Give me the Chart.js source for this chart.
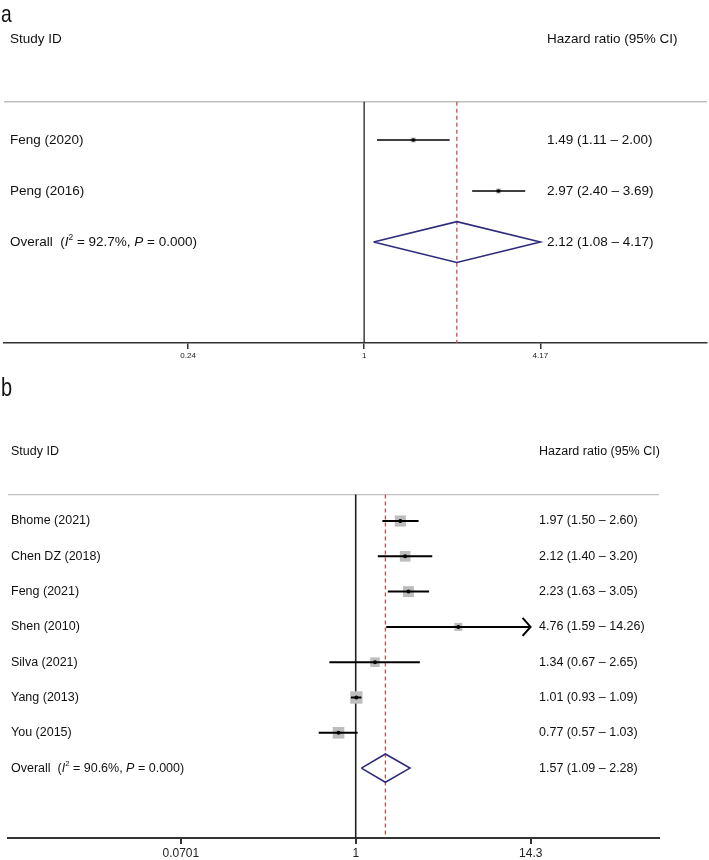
<!DOCTYPE html>
<html>
<head>
<meta charset="utf-8">
<script src="https://cdn.jsdelivr.net/npm/chart.js@4.4.0/dist/chart.umd.min.js"></script>
<style>
  body { margin: 0; background: #fff; }
  canvas { position: absolute; left: 0; }
  #chartA { top: 0; }
  #chartB { top: 370px; }
</style>
</head>
<body>
<canvas id="chartA" width="709" height="370"></canvas>
<canvas id="chartB" width="709" height="490"></canvas>
<script>
// ---- panel a data ----
const studiesA = ['Feng (2020)', 'Peng (2016)'];
const hrA = [1.49, 2.97];
const lowA = [1.11, 2.40];
const highA = [2.00, 3.69];
const weightA = [50, 50];
const pooledA = [2.12, 1.08, 4.17];   // estimate, low, high
const hetA = ['92.7%', '0.000'];
const ticksA = [0.24, 1, 4.17];
const tickLabelsA = ['0.24', '1', '4.17'];

// ---- panel b data ----
const studiesB = ['Bhome (2021)', 'Chen DZ (2018)', 'Feng (2021)', 'Shen (2010)', 'Silva (2021)', 'Yang (2013)', 'You (2015)'];
const hrB = [1.97, 2.12, 2.23, 4.76, 1.34, 1.01, 0.77];
const lowB = [1.50, 1.40, 1.63, 1.59, 0.67, 0.93, 0.57];
const highB = [2.60, 3.20, 3.05, 14.26, 2.65, 1.09, 1.03];
const weightB = [15.5, 14.2, 15.0, 8.0, 11.5, 19.0, 16.8];
const pooledB = [1.57, 1.09, 2.28];
const hetB = ['90.6%', '0.000'];
const ticksB = [0.0701, 1, 14.3];
const tickLabelsB = ['0.0701', '1', '14.3'];

const FONT = '"Liberation Sans", Arial, Helvetica, sans-serif';
const f2 = v => v.toFixed(2);
const ciText = (e, l, h) => f2(e) + ' (' + f2(l) + ' \u2013 ' + f2(h) + ')';

function drawRich(ctx, x, y, parts, size) {
  for (const p of parts) {
    const sz = p.sup ? size * 0.62 : size;
    ctx.font = (p.it ? 'italic ' : '') + sz + 'px ' + FONT;
    ctx.fillText(p.t, x, p.sup ? y - size * 0.32 : y);
    x += ctx.measureText(p.t).width;
  }
}

function forest(id, d, s) {
  const n = d.studies.length;
  const ruleRow = -0.75;
  const pts = d.hr.map((v, i) => ({ x: v, y: i }));
  const [pe, pl, ph] = d.pooled;
  const line = (data, extra) => Object.assign({ data, showLine: true, pointRadius: 0, borderWidth: 1.3, fill: false }, extra);

  // first dataset is drawn on top
  const datasets = [
    { data: pts, pointStyle: 'circle', pointRadius: s.dot, backgroundColor: '#000', borderWidth: 0 },
    ...d.hr.map((v, i) => line([{ x: d.low[i], y: i }, { x: d.high[i], y: i }], { borderColor: '#000', borderWidth: s.ciWidth })),
    { data: pts, pointStyle: 'rect', pointRadius: d.weight.map(w => Math.sqrt(w) * s.box), backgroundColor: '#bdbdbd', borderWidth: 0 },
    line([{ x: pl, y: n }, { x: pe, y: n - 0.4 }, { x: ph, y: n }, { x: pe, y: n + 0.4 }, { x: pl, y: n }],
         { borderColor: '#2e2c7a', borderWidth: s.diaWidth, borderJoinStyle: 'miter' }),
    line([{ x: pe, y: ruleRow }, { x: pe, y: s.yMax }], { borderColor: '#c0504d', borderDash: [4, 3], borderWidth: 1.3 }),
    line([{ x: 1, y: ruleRow }, { x: 1, y: s.yMax }], { borderColor: '#222', borderWidth: s.nullWidth }),
    line([{ x: s.xMin, y: ruleRow }, { x: s.xMax, y: ruleRow }], { borderColor: '#c0c0c0', borderWidth: 1.3 })
  ];

  const textPlugin = {
    id: 'forestText',
    afterDraw(chart) {
      const ctx = chart.ctx, xs = chart.scales.x, ys = chart.scales.y;
      ctx.save();
      ctx.fillStyle = '#111';
      // panel letter
      ctx.save();
      ctx.translate(1, s.letterTop);
      ctx.scale(0.8, 1);
      ctx.textBaseline = 'top';
      ctx.font = s.letterFont + 'px ' + FONT;
      ctx.fillText(s.letter, 0, 0);
      ctx.restore();

      ctx.textBaseline = 'middle';
      ctx.font = s.textFont + 'px ' + FONT;
      const hy = ys.getPixelForValue(-2) + 1;
      ctx.fillText('Study ID', s.labelX, hy);
      ctx.fillText('Hazard ratio (95% CI)', s.valueX, hy);
      d.studies.forEach((name, i) => {
        const y = ys.getPixelForValue(i);
        ctx.font = s.textFont + 'px ' + FONT;
        ctx.fillText(name, s.labelX, y);
        ctx.fillText(ciText(d.hr[i], d.low[i], d.high[i]), s.valueX, y);
        // arrow where the CI reaches the axis limit
        if (d.high[i] >= d.ticks[d.ticks.length - 1] * 0.99) {
          const tx = xs.getPixelForValue(d.high[i]);
          ctx.strokeStyle = '#000';
          ctx.lineWidth = s.ciWidth;
          ctx.beginPath();
          ctx.moveTo(tx - 8, y - 9); ctx.lineTo(tx, y); ctx.lineTo(tx - 8, y + 9);
          ctx.stroke();
        }
      });
      const oy = ys.getPixelForValue(n);
      drawRich(ctx, s.labelX, oy, [
        { t: 'Overall  (' }, { t: 'I', it: true }, { t: '2', sup: true },
        { t: ' = ' + d.het[0] + ', ' }, { t: 'P', it: true }, { t: ' = ' + d.het[1] + ')' }
      ], s.textFont);
      ctx.font = s.textFont + 'px ' + FONT;
      ctx.fillText(ciText(pe, pl, ph), s.valueX, oy);
      ctx.restore();
    }
  };

  return new Chart(document.getElementById(id), {
    type: 'scatter',
    data: { datasets },
    options: {
      responsive: false,
      animation: false,
      devicePixelRatio: 1,
      layout: { autoPadding: false, padding: { left: s.left, right: s.right, top: 0, bottom: 0 } },
      plugins: { legend: { display: false }, tooltip: { enabled: false } },
      scales: {
        x: {
          type: 'logarithmic', min: s.xMin, max: s.xMax, position: 'bottom',
          border: { display: true, color: '#333', width: s.axisWidth },
          grid: { display: true, drawOnChartArea: false, drawTicks: true, tickLength: 6, color: '#333', lineWidth: s.axisWidth },
          ticks: {
            autoSkip: false, maxRotation: 0, padding: 2, color: '#222',
            font: { size: s.tickFont, family: FONT },
            callback: (v, i) => d.tickLabels[i]
          },
          afterBuildTicks: sc => { sc.ticks = d.ticks.map(v => ({ value: v })); },
          afterFit: sc => { sc.height = s.axisHeight; }
        },
        y: { type: 'linear', reverse: true, min: s.yMin, max: s.yMax, display: false }
      }
    },
    plugins: [textPlugin]
  });
}

forest('chartA',
  { studies: studiesA, hr: hrA, low: lowA, high: highA, weight: weightA, pooled: pooledA, het: hetA, ticks: ticksA, tickLabels: tickLabelsA },
  { left: 4, right: 2, xMin: 0.054, xMax: 16.1, yMin: -2.745, yMax: 3.98, axisHeight: 27, tickFont: 8, textFont: 13.5,
    labelX: 10, valueX: 547, letter: 'a', letterFont: 24, letterTop: 3, ciWidth: 1.5, dot: 1.8, box: 0.5,
    diaWidth: 1.6, nullWidth: 1.3, axisWidth: 1.5 });

forest('chartB',
  { studies: studiesB, hr: hrB, low: lowB, high: highB, weight: weightB, pooled: pooledB, het: hetB, ticks: ticksB, tickLabels: tickLabelsB },
  { left: 8, right: 50, xMin: 0.00507, xMax: 100.4, yMin: -4.278, yMax: 8.98, axisHeight: 22, tickFont: 12, textFont: 12.5,
    labelX: 11, valueX: 539, letter: 'b', letterFont: 25, letterTop: 7, ciWidth: 2, dot: 2, box: 2.0,
    diaWidth: 1.6, nullWidth: 1.6, axisWidth: 2 });
</script>
</body>
</html>
